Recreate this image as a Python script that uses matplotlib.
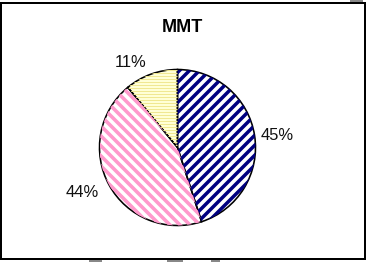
import matplotlib
matplotlib.use("Agg")
import matplotlib.pyplot as plt
from matplotlib.patches import Rectangle
import numpy as np

# data
title = "MMT"
categories = ["A", "B", "C"]
values = [45, 44, 11]
pct_labels = ["45%", "44%", "11%"]

# styling
face_colors = ["#FFFFFF", "#FFFFFF", "#FFFFD6"]
stripe_colors = ["#000080", "#FF99CC", "#F0E892"]
stripe_dirs = [1, -1, 0]          # +1 '/', -1 '\', 0 horizontal
stripe_pitch_px = [10.0, 10.0, 3.0]
stripe_lw_px = [3.5, 3.6, 1.0]
label_dist = [1.08, 1.15, 1.18]

DPI = 60
W, H = 367, 262
px = 72.0 / DPI  # points per pixel

plt.rcParams['font.family'] = ['Liberation Sans', 'DejaVu Sans']

fig = plt.figure(figsize=(W / DPI, H / DPI), dpi=DPI)
fig.patch.set_facecolor("white")

# outer frame
fig.patches.append(Rectangle((1.5 / W, (H - 258.5) / H), 363.5 / W, 255.5 / H,
                             transform=fig.transFigure, fill=False,
                             edgecolor="black", linewidth=2.0 * px, zorder=10))
# small gray remnants
for x0, x1 in [(89, 102), (167, 183), (211, 220)]:
    fig.patches.append(Rectangle((x0 / W, 0), (x1 - x0) / W, 2.0 / H,
                                 transform=fig.transFigure, facecolor="#888888",
                                 edgecolor="none"))
fig.patches.append(Rectangle((350 / W, (H - 2) / H), 13 / W, 2.0 / H,
                             transform=fig.transFigure, facecolor="#888888",
                             edgecolor="none"))

cx, cy, r = 177.5, 147.5, 78.0
ax = fig.add_axes([(cx - r) / W, (H - cy - r) / H, 2 * r / W, 2 * r / H])
unit_px = r  # pixels per data unit

# filled wedges
wedges, _ = ax.pie(values, startangle=90, counterclock=False, radius=1.0,
                   colors=face_colors, wedgeprops=dict(linewidth=0))

# stripes clipped to each wedge
for w, sc, d, pitch, lw in zip(wedges, stripe_colors, stripe_dirs,
                               stripe_pitch_px, stripe_lw_px):
    step = pitch / unit_px
    cs = np.arange(-2.5, 2.5 + step, step)
    xs = np.array([-1.2, 1.2])
    for c in cs:
        if d == 0:
            ln, = ax.plot(xs, [c, c], color=sc, linewidth=lw * px,
                          solid_capstyle="butt")
        else:
            ln, = ax.plot(xs, d * xs + c, color=sc, linewidth=lw * px,
                          solid_capstyle="butt")
        ln.set_clip_path(w)

# outlines and labels
wedges2, texts = ax.pie(values, startangle=90, counterclock=False, radius=1.0,
                        labels=pct_labels, labeldistance=1.1,
                        wedgeprops=dict(fill=False, edgecolor="black",
                                        linewidth=1.6 * px),
                        textprops=dict(fontsize=16.5 * px, color="#111111"))
for w, t, d in zip(wedges2, texts, label_dist):
    ang = np.deg2rad((w.theta1 + w.theta2) / 2.0)
    t.set_position((d * np.cos(ang), d * np.sin(ang)))
    t.set_va("center_baseline")
    t.set_clip_on(False)

ax.set_xlim(-1, 1)
ax.set_ylim(-1, 1)
ax.set_aspect("equal")
ax.axis("off")

fig.text(182.5 / W, (H - 26) / H, title, ha="center", va="center_baseline",
         fontsize=18 * px, fontweight="bold", color="black")

fig.savefig("out.png", dpi=DPI)
